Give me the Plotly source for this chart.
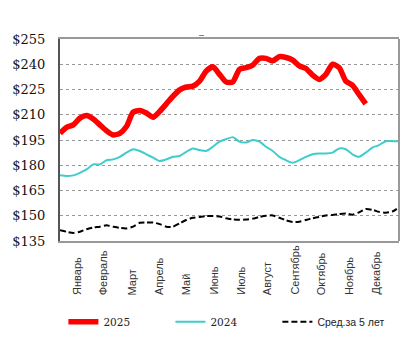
import plotly.graph_objects as go

weeks = list(range(1, 53))

y2025 = [199, 202.5, 204, 208, 209.5, 207.5, 204, 200.5, 198, 199, 203, 211.5, 212.5, 211,
         208.5, 212, 216.5, 221, 224.8, 226.5, 227, 230, 236, 238.5, 234, 229.5, 229.5, 237,
         238, 239.5, 243.5, 243.5, 242, 244.5, 244, 242.5, 239, 237.5, 233.5, 231, 234, 240,
         238, 230, 227.5, 222, 216.5]

y2024 = [174, 173.6, 174, 175.5, 177.5, 180.5, 180.5, 183, 183.5, 185, 187.5, 189.5, 188.5,
         186.5, 184.5, 182.5, 183.5, 185, 185.5, 188, 190, 189, 188.5, 191, 194, 195.5, 196.7,
         194, 193.5, 195, 194, 191, 188.5, 185, 183, 181.5, 183, 185, 186.5, 187, 187, 187.5,
         190, 189.5, 186.5, 185, 187.5, 190.5, 192, 194.3, 194.3, 194.3]

avg5 = [141.4, 140.5, 139.8, 140.5, 142, 143, 143.5, 144.3, 143.5, 142.8, 142.5, 143.5, 145.8,
        146, 146, 145, 143.5, 143.5, 145.5, 147.5, 148.8, 149.3, 149.8, 149.8, 149.6, 148.5,
        147.8, 147.6, 147.8, 148.3, 149.3, 150, 150.2, 148.8, 147.3, 146.3, 146.5, 147.5, 148.5,
        149.3, 150.2, 150.5, 151, 151.3, 150.6, 152, 154, 153.5, 152.3, 151.8, 152.5, 155]

months = ["Январь", "Февраль", "Март", "Апрель", "Май", "Июнь", "Июль", "Август",
          "Сентябрь", "Октябрь", "Ноябрь", "Декабрь"]
month_pos = [3.55, 7.6, 11.75, 15.9, 20.0, 24.1, 28.2, 32.25, 36.3, 40.4, 44.5, 48.55]

y_ticks = [135, 150, 165, 180, 195, 210, 225, 240, 255]
y_tick_text = ["$135", "$150", "$165", "$180", "$195", "$210", "$225", "$240", "$255"]

SERIF = "DejaVu Serif"

fig = go.Figure()
fig.add_trace(go.Scatter(x=weeks[:len(y2025)], y=y2025, mode="lines",
                         name='<span style="font-family:DejaVu Serif">2025</span>',
                         line=dict(color="#FF0000", width=5.5, shape="spline", smoothing=0.6)))
fig.add_trace(go.Scatter(x=weeks, y=y2024, mode="lines",
                         name='<span style="font-family:DejaVu Serif">2024</span>',
                         line=dict(color="#3ECCCC", width=2, shape="spline", smoothing=0.6)))
fig.add_trace(go.Scatter(x=weeks, y=avg5, mode="lines",
                         name="Сред.за 5 лет",
                         line=dict(color="#000000", width=2, dash="6px,3px", shape="spline", smoothing=0.6)))

for m, p in zip(months, month_pos):
    fig.add_annotation(x=p, y=-0.277, xref="x", yref="paper", text=m, textangle=-90,
                       showarrow=False, xanchor="center", yanchor="bottom",
                       font=dict(family="Liberation Sans", size=11, color="#333333"))

fig.add_annotation(x=0.416, y=1.055, xref="paper", yref="paper", text="–", showarrow=False,
                   font=dict(family="Liberation Sans", size=9, color="#444444"))

fig.add_shape(type="line", xref="paper", yref="paper", x0=1, x1=1, y0=0, y1=1,
              line=dict(color="#999999", width=2))

fig.update_layout(
    width=411, height=337,
    margin=dict(l=60, r=12, t=39, b=96, autoexpand=False),
    paper_bgcolor="white", plot_bgcolor="white",
    showlegend=True,
    legend=dict(orientation="h", x=0.01, xanchor="left", y=-0.40, yanchor="middle",
                font=dict(family="Liberation Sans", size=10.5, color="#222222"),
                entrywidth=62, entrywidthmode="pixels", traceorder="normal",
                bgcolor="rgba(0,0,0,0)"),
    xaxis=dict(range=[1, 52], showticklabels=False, showgrid=False, zeroline=False,
               showline=True, linecolor="#999999", linewidth=2, mirror=True, ticks=""),
    yaxis=dict(range=[135, 255], tickmode="array", tickvals=y_ticks, ticktext=y_tick_text,
               showgrid=True, gridcolor="#999999", griddash="dot", gridwidth=1,
               zeroline=False, showline=True, linecolor="#555555", linewidth=2,
               ticks="", ticklabelstandoff=10,
               tickfont=dict(family=SERIF, size=13, color="#111111")),
)

fig.write_html("out.html")
